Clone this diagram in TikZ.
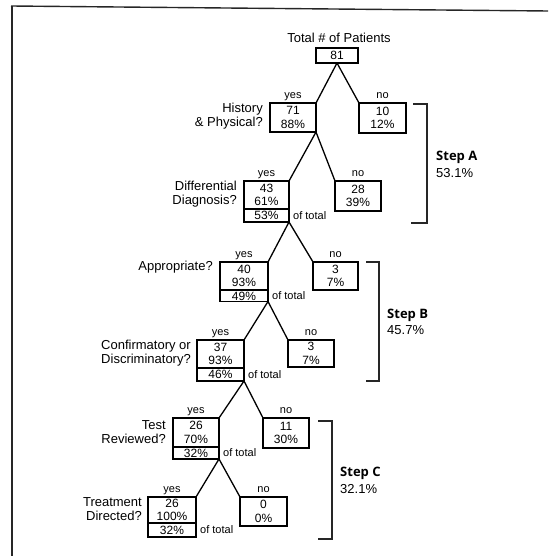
\documentclass[tikz,border=0pt]{standalone}
\usepackage{fontspec}
\setmainfont{Liberation Sans}
\newfontfamily\stepfont{Open Sans}
\begin{document}
\begin{tikzpicture}[x=1pt,y=-1pt,
  cell/.style={draw, line width=1.3pt, inner sep=0pt, outer sep=0pt, anchor=north west,
    font=\fontsize{12}{13.5}\selectfont},
  box/.style={cell, align=center},
  lowbox/.style={cell, text height=8.5pt, text depth=0pt},
  conn/.style={line width=1.3pt},
  lab/.style={inner sep=0pt, anchor=base, font=\fontsize{11}{13}\selectfont},
  quest/.style={inner sep=0pt, anchor=north east, align=right, font=\fontsize{13}{14}\selectfont},
  oftot/.style={inner sep=0pt, anchor=west, font=\fontsize{11}{13}\selectfont},
  frame/.style={line width=1.4pt, black!85},
  brack/.style={line width=1.1pt, black!85},
  steptitle/.style={inner sep=0pt, anchor=west, font=\stepfont\bfseries\fontsize{13}{14}\selectfont},
  steppct/.style={inner sep=0pt, anchor=west, font=\fontsize{13}{14}\selectfont}]
\useasboundingbox (0,0) rectangle (548,556);
% frame
\draw[frame] (11,6) -- (548,11);
\draw[frame] (12,6) -- (12,556);
% title
\node[inner sep=0pt, font=\fontsize{13}{14}\selectfont] (title) at (339,38) {Total \# of Patients};
% boxes
\node[lowbox, minimum width=42pt, minimum height=15pt] (b81) at (316,48) {81};
\node[box, minimum width=46pt, minimum height=29pt] (b71) at (270,103) {71\\88\%};
\node[box, minimum width=47pt, minimum height=30pt] (b10) at (359,103) {10\\12\%};
\node[box, minimum width=45pt, minimum height=28pt] (b43) at (244,181) {43\\61\%};
\node[lowbox, minimum width=45pt, minimum height=13pt] (b43t) at (b43.south west) {53\%};
\node[box, minimum width=46pt, minimum height=30pt] (b28) at (335,181) {28\\39\%};
\node[box, minimum width=48pt, minimum height=28pt] (b40) at (220,262) {40\\93\%};
\node[lowbox, minimum width=48pt, minimum height=11.5pt] (b40t) at (b40.south west) {49\%};
\node[box, minimum width=45pt, minimum height=28pt] (b3a) at (313,262) {3\\7\%};
\node[box, minimum width=47pt, minimum height=28pt] (b37) at (197,340) {37\\93\%};
\node[lowbox, minimum width=47pt, minimum height=13pt] (b37t) at (b37.south west) {46\%};
\node[box, minimum width=46pt, minimum height=27pt] (b3b) at (288,340) {3\\7\%};
\node[box, minimum width=46pt, minimum height=29pt] (b26a) at (173,418) {26\\70\%};
\node[lowbox, minimum width=46pt, minimum height=12pt] (b26at) at (b26a.south west) {32\%};
\node[box, minimum width=46pt, minimum height=30pt] (b11) at (263,418) {11\\30\%};
\node[box, minimum width=48pt, minimum height=26pt] (b26b) at (148,497) {26\\100\%};
\node[lowbox, minimum width=48pt, minimum height=14pt] (b26bt) at (b26b.south west) {32\%};
\node[box, minimum width=47pt, minimum height=29pt] (b0) at (240,497) {0\\0\%};
% connectors
\draw[conn] (b81.south) -- (b71.north east);
\draw[conn] (b81.south) -- (b10.north west);
\draw[conn] (b71.south east) -- (b43.north east);
\draw[conn] (b71.south east) -- (b28.north west);
\draw[conn] (b43t.south east) -- (b40.north east);
\draw[conn] (b43t.south east) -- (b3a.north west);
\draw[conn] (b40t.south east) -- (b37.north east);
\draw[conn] (b40t.south east) -- (b3b.north west);
\draw[conn] (b37t.south east) -- (b26a.north east);
\draw[conn] (b37t.south east) -- (b11.north west);
\draw[conn] (b26at.south east) -- (b26b.north east);
\draw[conn] (b26at.south east) -- (b0.north west);
% yes / no labels
\foreach \b/\t in {b71/yes,b10/no,b43/yes,b28/no,b40/yes,b3a/no,b37/yes,b3b/no,b26a/yes,b11/no,b26b/yes,b0/no}
  \node[lab] (l\b) at ([yshift=4.5pt]\b.north) {\t};
% questions
\node[quest] (q1) at ([xshift=-7pt]b71.north west) {History\\\& Physical?};
\node[quest] (q2) at ([xshift=-7pt]b43.north west) {Differential\\Diagnosis?};
\node[quest] (q3) at ([xshift=-7pt,yshift=1.5pt]b40.north west) {Appropriate?};
\node[quest] (q4) at ([xshift=-6pt]b37.north west) {Confirmatory or\\Discriminatory?};
\node[quest] (q5) at ([xshift=-7pt,yshift=-2pt]b26a.north west) {Test\\Reviewed?};
\node[quest] (q6) at ([xshift=-6pt]b26b.north west) {Treatment\\Directed?};
% of total
\node[oftot] (o1) at ([xshift=4pt]b43t.east) {of total};
\node[oftot] (o2) at ([xshift=4pt]b40t.east) {of total};
\node[oftot] (o3) at ([xshift=4pt]b37t.east) {of total};
\node[oftot] (o4) at ([xshift=4pt]b26at.east) {of total};
\node[oftot] (o5) at ([xshift=4pt]b26bt.east) {of total};
% step brackets
\draw[brack] (413,104) -- (427,104) -- (427,223) -- (411,223);
\draw[brack] (366,262) -- (379,262) -- (379,381) -- (366,381);
\draw[brack] (318,421) -- (332,421) -- (332,539) -- (318,539);
\node[steptitle] (sa) at (436,157) {Step A};
\node[steppct] (pa) at (436,173) {53.1\%};
\node[steptitle] (sb) at (387,315) {Step B};
\node[steppct] (pb) at (387,330) {45.7\%};
\node[steptitle] (sc) at (340,473) {Step C};
\node[steppct] (pc) at (340,489) {32.1\%};
\end{tikzpicture}
\end{document}
